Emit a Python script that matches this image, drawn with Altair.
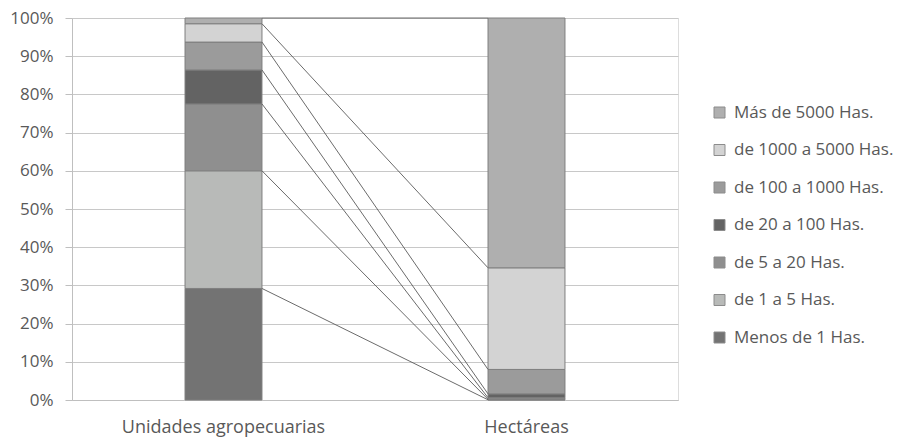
import altair as alt
import pandas as pd

categories = ["Unidades agropecuarias", "Hectáreas"]
series = [
    "Menos de 1 Has.",
    "de 1 a 5 Has.",
    "de 5 a 20 Has.",
    "de 20 a 100 Has.",
    "de 100 a 1000 Has.",
    "de 1000 a 5000 Has.",
    "Más de 5000 Has.",
]
unidades = [29.2, 30.8, 17.5, 8.9, 7.3, 4.8, 1.5]
hectareas = [0.05, 0.15, 0.4, 1.0, 6.4, 26.6, 65.4]
colors = ["#737373", "#b8bab8", "#8f8f8f", "#636363", "#9b9b9b", "#d3d3d3", "#afafaf"]
y_ticks = [0.0, 0.1, 0.2, 0.3, 0.4, 0.5, 0.6, 0.7, 0.8, 0.9, 1.0]

rows = []
for cat, vals in zip(categories, [unidades, hectareas]):
    for i, (s, v) in enumerate(zip(series, vals)):
        rows.append({"cat": cat, "serie": s, "valor": v / 100.0, "orden": i})
df = pd.DataFrame(rows)

cum_u = pd.Series(unidades).cumsum() / 100.0
cum_h = pd.Series(hectareas).cumsum() / 100.0
lines = pd.DataFrame({
    "serie": series,
    "desde": categories[0],
    "hasta": categories[1],
    "y1": cum_u.clip(upper=1.0),
    "y2": cum_h.clip(upper=1.0),
})

FONT = "Open Sans"
TXT = "#595959"
FS = 18
FSL = 17
FSY = 17

xscale = alt.Scale(domain=categories, paddingInner=0.746, paddingOuter=0.373)
yscale = alt.Scale(domain=[0, 1])


def xaxis():
    return alt.Axis(title=None, ticks=False, labelPadding=18, labelAngle=0,
                    labelLimit=0, domainColor="#bfbfbf", labelFontSize=FS,
                    labelColor=TXT, labelFont=FONT)


def yaxis():
    return alt.Axis(title=None, values=y_ticks, format=".0%", tickCount=11,
                    tickSize=7, tickColor="#bfbfbf", labelPadding=12,
                    labelOverlap=False, labelBound=False,
                    domainColor="#bfbfbf", gridColor="#c8c8c8",
                    labelFontSize=FSY, labelColor=TXT, labelFont=FONT)


bars = alt.Chart(df).mark_bar(stroke="#7f7f7f", strokeWidth=1).encode(
    x=alt.X("cat:N", scale=xscale, axis=xaxis()),
    y=alt.Y("valor:Q", stack="zero", scale=yscale, axis=yaxis()),
    color=alt.Color("serie:N",
                    scale=alt.Scale(domain=list(reversed(series)), range=list(reversed(colors))),
                    legend=alt.Legend(title=None, orient="none", legendX=639, legendY=86,
                                      symbolType="square", symbolSize=121,
                                      symbolStrokeColor="#8c8c8c", symbolStrokeWidth=1,
                                      labelFontSize=FSL, labelColor=TXT, labelFont=FONT,
                                      labelLimit=0,
                                      rowPadding=19.5, labelOffset=6, padding=0)),
    order=alt.Order("orden:Q", sort="ascending"),
)

rules = alt.Chart(lines).mark_rule(color="#5a5a5a", strokeWidth=0.9).encode(
    x=alt.X("desde:N", scale=xscale, bandPosition=1, axis=xaxis()),
    x2=alt.X2("hasta", bandPosition=0),
    y=alt.Y("y1:Q", scale=yscale, axis=yaxis()),
    y2=alt.Y2("y2"),
)

chart = alt.layer(bars, rules).properties(
    width=606,
    height=382,
    autosize=alt.AutoSizeParams(type="none"),
    padding={"left": 64, "top": 10, "right": 220, "bottom": 38},
).configure_view(strokeWidth=0).configure(font=FONT)

chart.save("out.html", embed_options={"renderer": "svg", "actions": False})
